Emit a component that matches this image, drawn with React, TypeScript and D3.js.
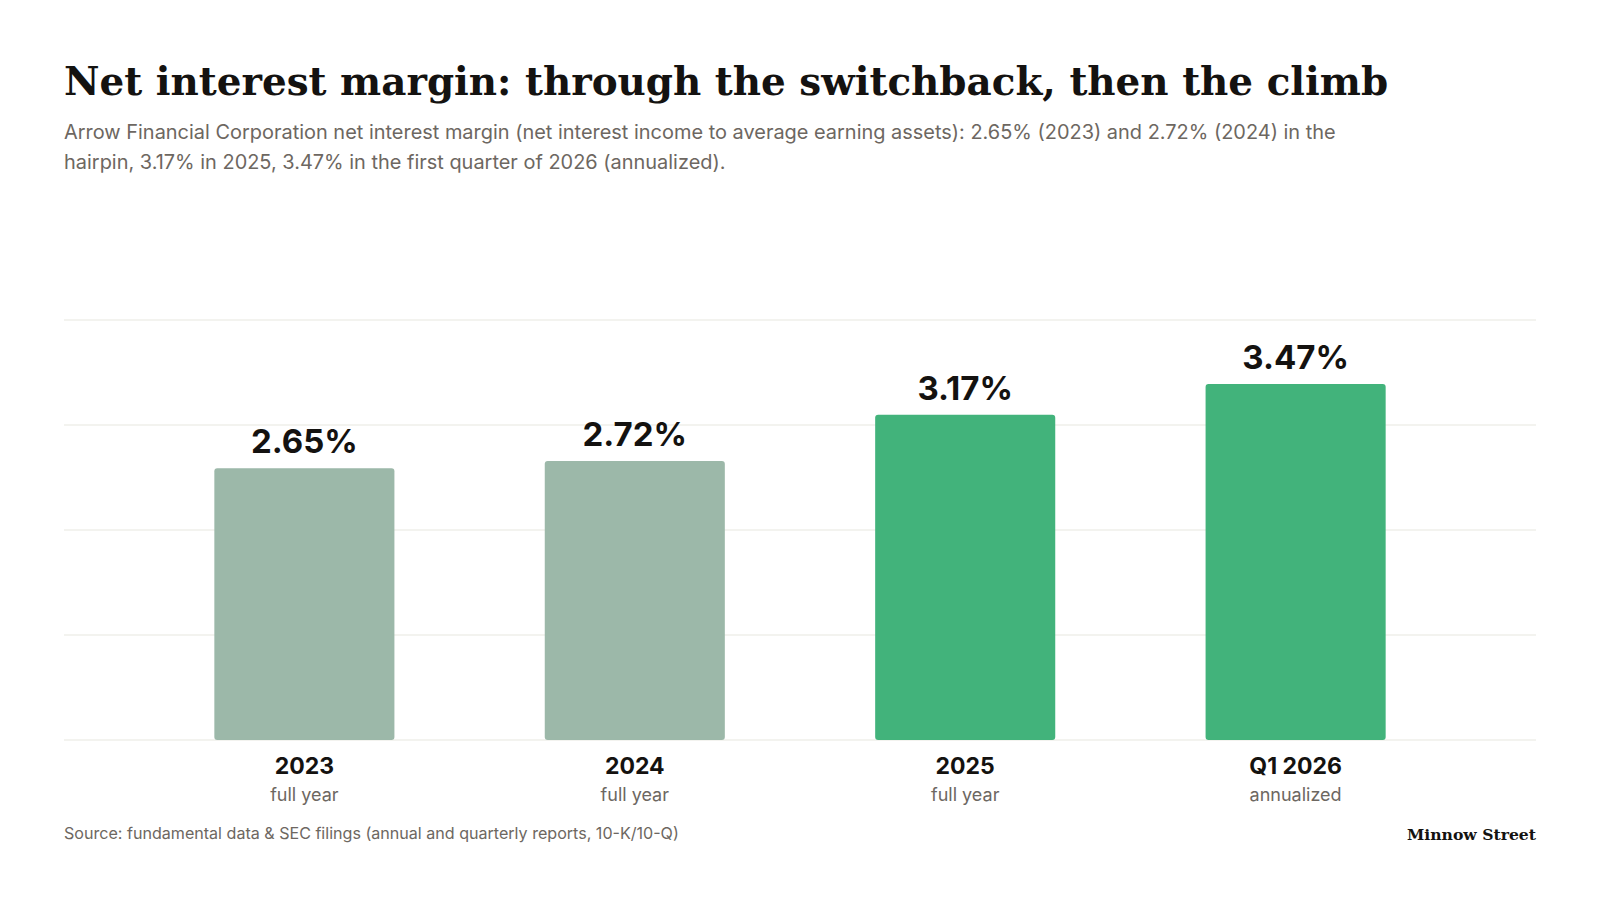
import * as React from 'react';
import { useEffect, useRef } from 'react';
import { select, scaleBand, scaleLinear, max, range } from 'd3';

const categories = ['2023', '2024', '2025', 'Q1 2026'];
const periodNotes = ['full year', 'full year', 'full year', 'annualized'];
const nimValues = [2.65, 2.72, 3.17, 3.47];
const isRecent = [false, false, true, true];

const titleText = 'Net interest margin: through the switchback, then the climb';
const subtitleLines = [
    'Arrow Financial Corporation net interest margin (net interest income to average earning assets): 2.65% (2023) and 2.72% (2024) in the',
    'hairpin, 3.17% in 2025, 3.47% in the first quarter of 2026 (annualized).',
];
const sourceText = 'Source: fundamental data & SEC filings (annual and quarterly reports, 10-K/10-Q)';
const brandText = 'Minnow Street';

const SANS = 'Inter, "Noto Sans", "Liberation Sans", sans-serif';
const SERIF = '"DejaVu Serif", "Liberation Serif", serif';

const W = 1600;
const H = 900;
const margin = { top: 320, right: 64, bottom: 160, left: 64 };

// shrink or grow a text's font-size until it spans the given width
function fitWidth(node: SVGTextElement, target: number) {
    const size = parseFloat(node.getAttribute('font-size') || '16');
    const len = node.getComputedTextLength();
    if (len > 0) node.setAttribute('font-size', String((size * target) / len));
}

export default function App() {
    const ref = useRef<SVGSVGElement>(null);

    useEffect(() => {
        const svg = select(ref.current);
        svg.selectAll('*').remove();

        const x = scaleBand<string>()
            .domain(categories)
            .range([margin.left, W - margin.right])
            .padding(0.455);
        const yMax = (max(nimValues) as number) * 1.18;
        const y = scaleLinear().domain([0, yMax]).range([H - margin.bottom, margin.top]);

        // header
        const title = svg.append('text')
            .attr('x', 64).attr('y', 95)
            .attr('font-family', SERIF).attr('font-weight', 700)
            .attr('font-size', 39).attr('fill', '#141210')
            .text(titleText);
        fitWidth(title.node() as SVGTextElement, 1325);

        const sub = svg.append('g');
        subtitleLines.forEach((t, i) => {
            sub.append('text')
                .attr('x', 64).attr('y', 139 + i * 29.5)
                .attr('font-family', SANS).attr('font-size', 20)
                .attr('fill', '#6d6761')
                .text(t);
        });
        const firstLine = sub.select('text').node() as SVGTextElement;
        fitWidth(firstLine, 1273);
        sub.selectAll('text').attr('font-size', firstLine.getAttribute('font-size'));

        // gridlines
        svg.append('g')
            .selectAll('line')
            .data(range(5).map((i) => (yMax * i) / 4))
            .join('line')
            .attr('x1', margin.left).attr('x2', W - margin.right)
            .attr('y1', (d) => y(d)).attr('y2', (d) => y(d))
            .attr('stroke', '#efefea').attr('stroke-width', 1.5);

        // bars
        const bars = svg.append('g');
        bars.selectAll('rect')
            .data(nimValues)
            .join('rect')
            .attr('x', (_, i) => x(categories[i]) as number)
            .attr('width', x.bandwidth())
            .attr('y', (d) => y(d))
            .attr('height', (d) => y(0) - y(d))
            .attr('rx', 3)
            .attr('fill', (_, i) => (isRecent[i] ? '#42b37b' : '#9cb8a9'));

        bars.selectAll('text.value')
            .data(nimValues)
            .join('text')
            .attr('class', 'value')
            .attr('x', (_, i) => (x(categories[i]) as number) + x.bandwidth() / 2)
            .attr('y', (d) => y(d) - 15)
            .attr('text-anchor', 'middle')
            .attr('font-family', SANS).attr('font-weight', 700)
            .attr('font-size', 33).attr('fill', '#141210')
            .text((d) => `${d.toFixed(2)}%`);

        // category labels
        const cat = svg.append('g');
        categories.forEach((c, i) => {
            const cx = (x(c) as number) + x.bandwidth() / 2;
            cat.append('text')
                .attr('x', cx).attr('y', 774)
                .attr('text-anchor', 'middle')
                .attr('font-family', SANS).attr('font-weight', 700)
                .attr('font-size', 23).attr('fill', '#141210')
                .text(c);
            cat.append('text')
                .attr('x', cx).attr('y', 801)
                .attr('text-anchor', 'middle')
                .attr('font-family', SANS)
                .attr('font-size', 18).attr('fill', '#6d6761')
                .text(periodNotes[i]);
        });

        // footer
        const src = svg.append('text')
            .attr('x', 64).attr('y', 839)
            .attr('font-family', SANS).attr('font-size', 16)
            .attr('fill', '#6d6761')
            .text(sourceText);
        fitWidth(src.node() as SVGTextElement, 615);

        const brand = svg.append('text')
            .attr('x', W - margin.right).attr('y', 840)
            .attr('text-anchor', 'end')
            .attr('font-family', SERIF).attr('font-weight', 700)
            .attr('font-size', 17).attr('fill', '#141210')
            .text(brandText);
        fitWidth(brand.node() as SVGTextElement, 129);
    }, []);

    return (
        <svg
            ref={ref}
            width={W}
            height={H}
            style={{ position: 'absolute', left: 0, top: 0, background: '#fff' }}
        />
    );
}
